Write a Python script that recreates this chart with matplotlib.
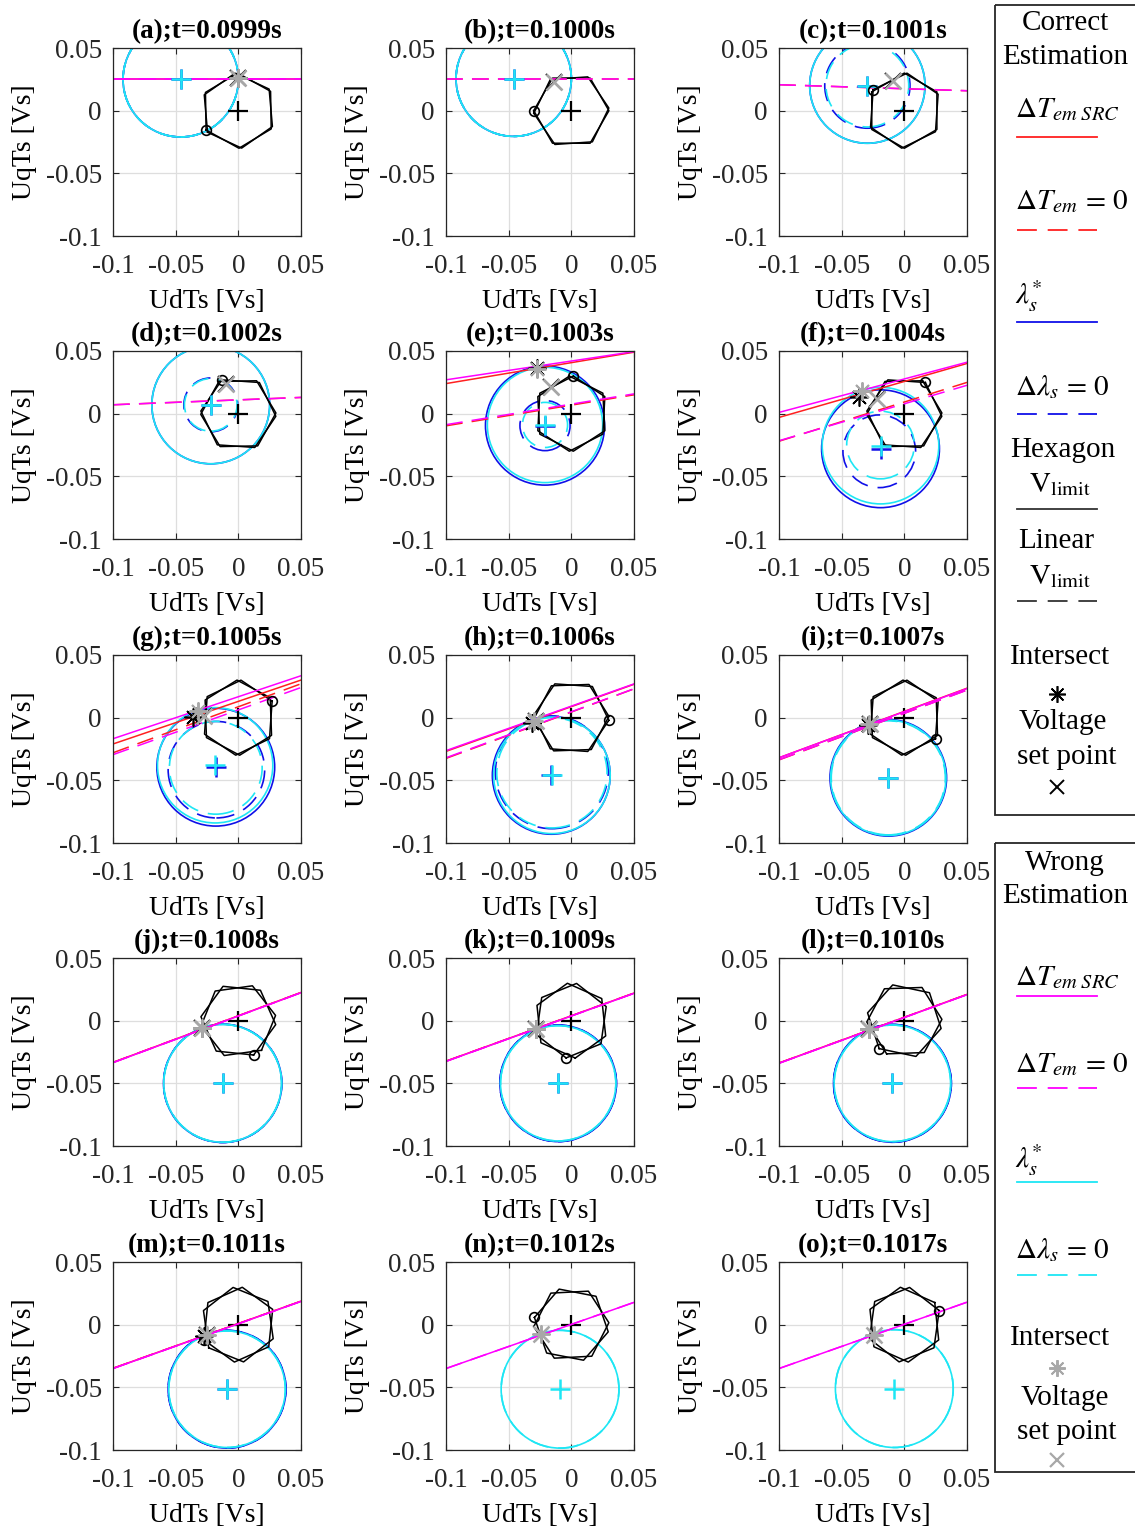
import numpy as np
import matplotlib
matplotlib.use('Agg')
import matplotlib.pyplot as plt
from matplotlib.patches import Circle, Rectangle

plt.rcParams['font.family'] = ['Liberation Serif', 'DejaVu Serif']
plt.rcParams['mathtext.fontset'] = 'stix'

titles = ['(a);t=0.0999s', '(b);t=0.1000s', '(c);t=0.1001s', '(d);t=0.1002s',
          '(e);t=0.1003s', '(f);t=0.1004s', '(g);t=0.1005s', '(h);t=0.1006s',
          '(i);t=0.1007s', '(j);t=0.1008s', '(k);t=0.1009s', '(l);t=0.1010s',
          '(m);t=0.1011s', '(n);t=0.1012s', '(o);t=0.1017s']
ticks = [-0.1, -0.05, 0, 0.05]
tick_labels = ['-0.1', '-0.05', '0', '0.05']

# hexagon voltage limit: angle of active vertex (deg), offset of 2nd hexagon
hex_ang = [211, 180, 146, 116, 87, 56, 26, -4, -34, -66, -98, -132, -156, 169, 22]
hex_dev = [4, 4, 4, 5, 6, 5, 6, 6, 6, 14, 14, 14, 14, 14, 14]
hex_r = 0.030

# wrong estimation (magenta / cyan / gray)
w_cx = [-0.046, -0.046, -0.0295, -0.022, -0.021, -0.019, -0.0185, -0.0155, -0.0128,
        -0.0125, -0.0105, -0.0095, -0.009, -0.009, -0.008]
w_cy = [0.025, 0.0255, 0.020, 0.007, -0.009, -0.0255, -0.038, -0.046, -0.048,
        -0.050, -0.050, -0.050, -0.0515, -0.0515, -0.051]
w_r = [0.046, 0.046, 0.046, 0.047, 0.046, 0.0465, 0.046, 0.0465, 0.046,
       0.047, 0.046, 0.0465, 0.0465, 0.047, 0.047]
w_dcx = [-0.046, -0.046, -0.0295, -0.022, -0.021, -0.019, -0.018, -0.0155, -0.0128,
         -0.0125, -0.0105, -0.0095, -0.009, -0.009, -0.008]
w_dcy = [0.025, 0.0255, 0.020, 0.007, -0.009, -0.025, -0.040, -0.044, -0.048,
         -0.050, -0.050, -0.050, -0.0515, -0.0515, -0.051]
w_dr = [0.046, 0.046, 0.033, 0.021, 0.018, 0.027, 0.037, 0.044, 0.0455,
        0.047, 0.046, 0.0465, 0.0465, 0.047, 0.047]
# lines as (y at UdTs=0, slope)
w_sol = [(0.025, 0.0), None, None, None, (0.042, 0.15), (0.0277, 0.267), (0.0167, 0.335),
         (0.0092, 0.355), (0.0048, 0.368), (0.0037, 0.372), (0.0037, 0.362), (0.0025, 0.365),
         (0.0007, 0.357), (0.0002, 0.352), (0.0003, 0.353)]
w_dsh = [(0.025, 0.0), (0.0255, 0.0), (0.0175, -0.032), (0.011, 0.039), (0.0076, 0.164),
         (0.0079, 0.295), (0.0062, 0.357), (0.0047, 0.367), (0.0035, 0.37), (0.0037, 0.372),
         (0.0037, 0.362), (0.0025, 0.365), (0.0007, 0.357), (0.0002, 0.352), (0.0003, 0.353)]
w_star = [(0.0, 0.026), None, None, None, (-0.027, 0.036), (-0.0335, 0.0184), (-0.032, 0.0056),
          (-0.030, -0.0024), (-0.028, -0.005), (-0.029, -0.0056), (-0.028, -0.0064),
          (-0.0283, -0.0064), (-0.0247, -0.008), (-0.0243, -0.0072), (-0.0245, -0.008)]
w_set = [(0.0, 0.026), (-0.0135, 0.023), (-0.009, 0.024), (-0.0096, 0.024), (-0.016, 0.021),
         (-0.0215, 0.012), (-0.027, 0.001), (-0.028, -0.003), (-0.027, -0.005), (-0.029, -0.0056),
         (-0.028, -0.0064), (-0.0283, -0.0064), (-0.0247, -0.008), (-0.0243, -0.0072),
         (-0.0245, -0.008)]

# correct estimation (red / blue / black), panels (a)-(m)
c_cx = [-0.046, -0.046, -0.0295, -0.022, -0.021, -0.019, -0.018, -0.016, -0.0128,
        -0.0125, -0.0105, -0.0095, -0.009]
c_cy = [0.025, 0.0255, 0.020, 0.007, -0.0095, -0.028, -0.0395, -0.046, -0.048,
        -0.050, -0.050, -0.050, -0.0515]
c_r = [0.046, 0.046, 0.046, 0.047, 0.0475, 0.047, 0.047, 0.047, 0.0465,
       0.0472, 0.0465, 0.047, 0.047]
c_dcx = [-0.046, -0.046, -0.0295, -0.022, -0.021, -0.020, -0.0175, -0.0156, -0.0128,
         -0.0125, -0.0105, -0.0095, -0.009]
c_dcy = [0.025, 0.0255, 0.020, 0.007, -0.0095, -0.030, -0.0415, -0.0436, -0.048,
         -0.050, -0.050, -0.050, -0.0515]
c_dr = [0.046, 0.046, 0.034, 0.0215, 0.020, 0.029, 0.0385, 0.045, 0.046,
        0.0472, 0.0465, 0.047, 0.047]
c_sol = [(0.025, 0.0), None, None, None, (0.0407, 0.167), (0.0257, 0.287), (0.013, 0.34),
         (0.0088, 0.357), (0.0050, 0.37), (0.0039, 0.372), (0.0039, 0.362), (0.0027, 0.365),
         (0.0009, 0.357)]
c_dsh = [(0.025, 0.0), (0.0255, 0.0), (0.0175, -0.032), (0.011, 0.039), (0.0068, 0.165),
         (0.0093, 0.313), (0.0087, 0.367), (0.0045, 0.37), (0.0035, 0.372), (0.0039, 0.372),
         (0.0039, 0.362), (0.0027, 0.365), (0.0009, 0.357)]
c_star = [(0.0, 0.026), None, None, None, (-0.027, 0.0365), (-0.036, 0.013), (-0.036, 0.0008),
          (-0.031, -0.004), (-0.029, -0.006), (-0.029, -0.006), (-0.028, -0.007),
          (-0.0285, -0.007), (-0.027, -0.009)]

RED, MAG, BLUE, CYAN, GRAY = '#ff2020', '#ff00ff', '#1010e8', '#1ee6f4', '#a8a8a8'
DASH = (0, (11, 6))
ASTER = (8, 2, 0)
FS = 19.5

W, H = 1135, 1530
col_x = [113, 446, 779]
row_y = [48, 351, 655, 958, 1262]
S = 188

fig = plt.figure(figsize=(W / 100, H / 100), dpi=100)


def draw_set(ax, cx, cy, r, dcx, dcy, dr, sol, dsh, lc, cc):
    if sol is not None:
        ax.axline((0, sol[0]), slope=sol[1], color=lc, lw=1.1)
    ax.axline((0, dsh[0]), slope=dsh[1], color=lc, lw=1.1, linestyle=DASH)
    ax.add_patch(Circle((cx, cy), r, fill=False, ec=cc, lw=1.2))
    ax.add_patch(Circle((dcx, dcy), dr, fill=False, ec=cc, lw=1.2, linestyle=DASH))


for i in range(15):
    r, c = divmod(i, 3)
    ax = fig.add_axes([col_x[c] / W, 1 - (row_y[r] + S) / H, S / W, S / H])
    ax.set_xlim(-0.1, 0.05)
    ax.set_ylim(-0.1, 0.05)
    ax.set_xticks(ticks)
    ax.set_yticks(ticks)
    ax.set_xticklabels(tick_labels)
    ax.set_yticklabels(tick_labels)
    ax.tick_params(direction='in', length=4, width=0.8, labelsize=FS, pad=8,
                   top=True, right=True, colors='#262626')
    ax.tick_params(axis='x', pad=13)
    ax.grid(True, color='#dedede', lw=0.9)
    ax.set_axisbelow(True)
    for sp in ax.spines.values():
        sp.set_color('#262626')
        sp.set_linewidth(0.9)
    ax.set_title(titles[i], fontsize=FS, fontweight='bold', pad=7)
    ax.set_xlabel('UdTs [Vs]', fontsize=20, labelpad=7)
    ax.set_ylabel('UqTs [Vs]', fontsize=20, labelpad=6)

    # two hexagon voltage limits
    for off in (0, hex_dev[i]):
        a = np.deg2rad(hex_ang[i] + off + 60 * np.arange(7))
        ax.plot(hex_r * np.cos(a), hex_r * np.sin(a), color='k', lw=1.1)
    va = np.deg2rad(hex_ang[i])
    ax.plot(0, 0, marker='+', color='k', ms=14, mew=1.6)

    if i < len(c_cx):
        draw_set(ax, c_cx[i], c_cy[i], c_r[i], c_dcx[i], c_dcy[i], c_dr[i],
                 c_sol[i], c_dsh[i], RED, BLUE)
    draw_set(ax, w_cx[i], w_cy[i], w_r[i], w_dcx[i], w_dcy[i], w_dr[i],
             w_sol[i], w_dsh[i], MAG, CYAN)

    if i < len(c_cx):
        ax.plot(c_cx[i], c_cy[i], marker='+', color=BLUE, ms=14, mew=1.8)
    ax.plot(w_cx[i], w_cy[i], marker='+', color=CYAN, ms=14, mew=1.8)
    ax.plot(hex_r * np.cos(va), hex_r * np.sin(va), marker='o', color='k',
            mfc='none', ms=7, mew=1.2)

    if i < len(c_cx):
        if c_star[i] is not None:
            ax.plot(*c_star[i], marker=ASTER, color='k', ms=13, mew=1.2)
        ax.plot(*w_set[i], marker='x', color='k', ms=11, mew=1.4)
    if w_star[i] is not None:
        ax.plot(*w_star[i], marker=ASTER, color=GRAY, ms=13, mew=1.4)
    ax.plot(*w_set[i], marker='x', color=GRAY, ms=11, mew=1.8)

# legend panels drawn in pixel coordinates
lg = fig.add_axes([0, 0, 1, 1])
lg.set_xlim(0, W)
lg.set_ylim(H, 0)
lg.axis('off')
lg.add_patch(Rectangle((995, 5), 200, 810, fill=False, ec='#262626', lw=1.3))
lg.add_patch(Rectangle((995, 843), 200, 629, fill=False, ec='#262626', lw=1.3))

LFS = 21


def ctext(x, y, s):
    lg.text(x, y, s, fontsize=LFS, ha='center', va='center')


def mtext(y, s):
    lg.text(1015, y, s, fontsize=LFS, ha='left', va='center')


def key(y, color, ls='-'):
    lg.plot([1017, 1097], [y, y], color=color, lw=1.3, linestyle=ls)


ctext(1065, 23, 'Correct')
ctext(1065, 57, 'Estimation')
mtext(110, r'$\Delta T_{em\ SRC}$')
key(137, RED)
mtext(202, r'$\Delta T_{em}\,=\,0$')
key(230, RED, DASH)
mtext(296, r'$\lambda_s^{*}$')
key(322, BLUE)
mtext(387, r'$\Delta \lambda_s\,=\,0$')
key(414, BLUE, DASH)
ctext(1063, 450, 'Hexagon')
ctext(1060, 485, r'$\mathrm{V}_{\mathrm{limit}}$')
key(509, '#333333')
ctext(1056, 541, 'Linear')
ctext(1060, 577, r'$\mathrm{V}_{\mathrm{limit}}$')
key(601, '#333333', DASH)
ctext(1060, 657, 'Intersect')
lg.plot(1057, 694, marker=ASTER, color='k', ms=12, mew=1.2)
ctext(1063, 722, 'Voltage')
ctext(1067, 757, 'set point')
lg.plot(1057, 787, marker='x', color='k', ms=10, mew=1.4)

ctext(1065, 863, 'Wrong')
ctext(1065, 896, 'Estimation')
mtext(978, r'$\Delta T_{em\ SRC}$')
key(996, MAG)
mtext(1065, r'$\Delta T_{em}\,=\,0$')
key(1088, MAG, DASH)
mtext(1160, r'$\lambda_s^{*}$')
key(1182, CYAN)
mtext(1250, r'$\Delta \lambda_s\,=\,0$')
key(1275, CYAN, DASH)
ctext(1060, 1338, 'Intersect')
lg.plot(1057, 1368, marker=ASTER, color=GRAY, ms=12, mew=1.4)
ctext(1065, 1398, 'Voltage')
ctext(1067, 1432, 'set point')
lg.plot(1057, 1460, marker='x', color=GRAY, ms=10, mew=1.6)

fig.savefig('out.png', dpi=100)
